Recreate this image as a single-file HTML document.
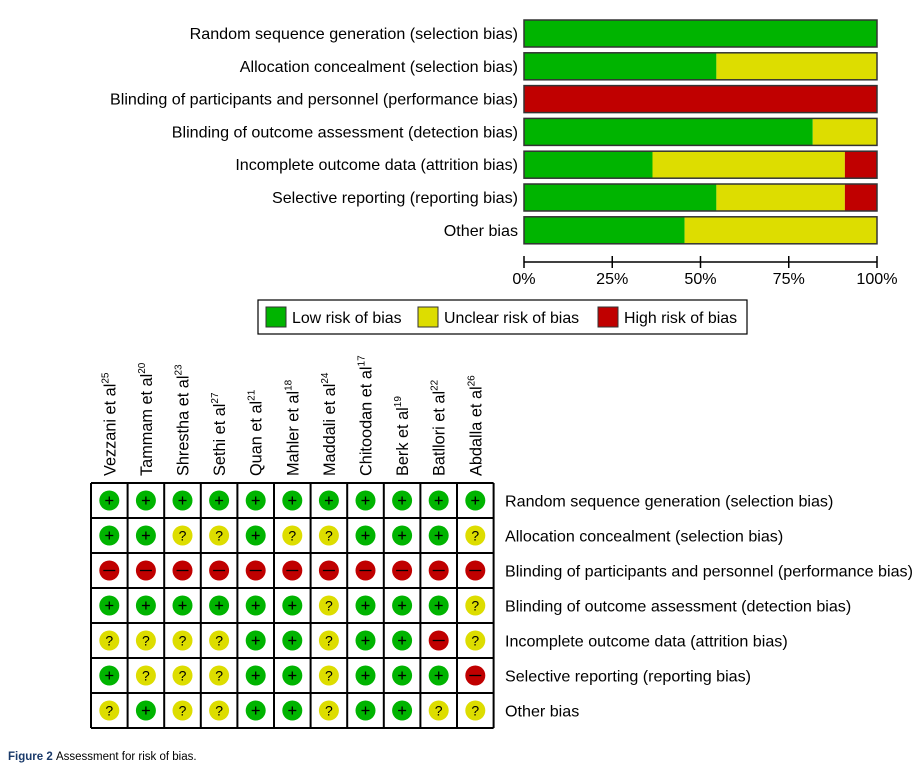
<!DOCTYPE html>
<html><head><meta charset="utf-8"><style>
body{margin:0;background:#fff;width:918px;height:770px;overflow:hidden;font-family:"Liberation Sans",Arial,sans-serif}
svg text{font-family:"Liberation Sans",Arial,sans-serif}
</style></head><body>
<svg id="c" width="918" height="770"></svg>
<script>
const domains=["Random sequence generation (selection bias)","Allocation concealment (selection bias)","Blinding of participants and personnel (performance bias)","Blinding of outcome assessment (detection bias)","Incomplete outcome data (attrition bias)","Selective reporting (reporting bias)","Other bias"];
const lowPct=[100,54.5,0,81.8,36.4,54.5,45.5];
const unclearPct=[0,45.5,0,18.2,54.5,36.4,54.5];
const highPct=[0,0,100,0,9.1,9.1,0];
const ticks=["0%","25%","50%","75%","100%"];
const studies=["Vezzani et al","Tammam et al","Shrestha et al","Sethi et al","Quan et al","Mahler et al","Maddali et al","Chitoodan et al","Berk et al","Batllori et al","Abdalla et al"];
const refs=["25","20","23","27","21","18","24","17","19","22","26"];
const judg=[
"+++++++++++",
"++??+??+++?",
"-----------",
"++++++?+++?",
"????++?++-?",
"+???++?+++-",
"?+??++?++??"];
const svg=document.getElementById('c');const NS="http://www.w3.org/2000/svg";
function el(t,a,p){const e=document.createElementNS(NS,t);for(const k in a)e.setAttribute(k,a[k]);(p||svg).appendChild(e);return e;}
const G="#00b400",Y="#dddd00",R="#c00000";
const FS=16.1;
const x0=524,x1=877;const xs=v=>x0+(x1-x0)*v/100;
const rowY=i=>20+i*32.8;
domains.forEach((d,i)=>{
 const y=rowY(i),h=27;
 let t=el('text',{x:518,y:y+19,'text-anchor':'end','font-size':FS,fill:'#000'});t.textContent=d;
 
 let s=0;[[lowPct[i],G],[unclearPct[i],Y],[highPct[i],R]].forEach(([v,c])=>{
  if(v>0){const r=el('rect',{x:xs(s),y:y,width:xs(s+v)-xs(s),height:h,fill:c});
  }
  s+=v;});
 const o=el('rect',{x:x0,y:y,width:x1-x0,height:h,fill:'none',stroke:'#333','stroke-width':1.5});
 
});
const ax=el('line',{x1:x0,x2:x1,y1:262,y2:262,stroke:'#000','stroke-width':1.5});

ticks.forEach((tk,i)=>{const x=xs(i*25);
 el('line',{x1:x,x2:x,y1:256,y2:268,stroke:'#000','stroke-width':1.5});
 const t=el('text',{x:x,y:284,'text-anchor':'middle','font-size':FS});t.textContent=tk;
 });
const lg=el('g',{});
el('rect',{x:258,y:300,width:489,height:34,fill:'#fff',stroke:'#000','stroke-width':1.2},lg);
[[266,G,"Low risk of bias"],[418,Y,"Unclear risk of bias"],[598,R,"High risk of bias"]].forEach(([x,c,l])=>{
 const g=el('g',{},lg);
 el('rect',{x:x,y:307,width:20,height:20,fill:c,stroke:'#333'},g);
 const t=el('text',{x:x+26,y:323,'font-size':15.9},g);t.textContent=l;});
const gx=91,gy=483,cw=36.6,rh=35.0;
studies.forEach((s,j)=>{
 const cx=gx+cw*(j+0.5);
 const t=el('text',{transform:`translate(${cx+6},476) rotate(-90)`,'font-size':16.3});
 t.textContent=s;const sp=el('tspan',{'font-size':10,dy:-7},t);sp.textContent=refs[j];
 
});
for(let i=0;i<=7;i++)el('line',{x1:gx,x2:gx+cw*11,y1:gy+i*rh,y2:gy+i*rh,stroke:'#000','stroke-width':2});
for(let j=0;j<=11;j++)el('line',{x1:gx+j*cw,x2:gx+j*cw,y1:gy,y2:gy+7*rh,stroke:'#000','stroke-width':2});
domains.forEach((d,i)=>{
 const cy=gy+rh*(i+0.5);
 const t=el('text',{x:505,y:cy+6,'font-size':FS});t.textContent=d;
 
 for(let j=0;j<11;j++){const v=judg[i][j];const cx=gx+cw*(j+0.5);
  const c=v=='+'?G:v=='?'?Y:R;
  const ci=el('circle',{cx:cx,cy:cy,r:10,fill:c});
  
  if(v=='-')el('line',{x1:cx-6,x2:cx+6,y1:cy,y2:cy,stroke:'#000','stroke-width':1.3});
  else if(v=='+'){el('line',{x1:cx-4,x2:cx+4,y1:cy,y2:cy,stroke:'#000','stroke-width':1.3});el('line',{x1:cx,x2:cx,y1:cy-4,y2:cy+4,stroke:'#000','stroke-width':1.3});}
  else{const t2=el('text',{x:cx,y:cy+5,'text-anchor':'middle','font-size':14});t2.textContent=v;}
 }
});
const cap=el('text',{x:8,y:760,'font-size':11.5});

const b=el('tspan',{'font-weight':'bold',fill:'#1a3a6a'},cap);b.textContent="Figure 2 ";
const r2=el('tspan',{},cap);r2.textContent="Assessment for risk of bias.";
</script>
</body></html>
